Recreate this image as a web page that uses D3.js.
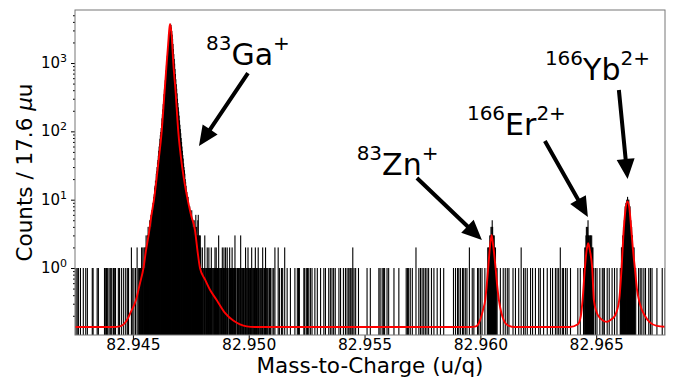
<!DOCTYPE html>
<html><head><meta charset="utf-8">
<script src="https://cdn.jsdelivr.net/npm/d3@7"></script>
<style>body{margin:0;background:#fff} svg{display:block} text{font-family:"DejaVu Sans",sans-serif}</style>
</head><body><svg id="c" width="673" height="377"></svg>
<script>
// ---------- data ----------
const binWidth = 17.6e-6;          // u
const binOrigin = 82.9425;         // u, left edge of bin 0
const gaStartBin = 159;
const gaCounts = [1,
1,0,2,1,1,2,0,1,2,1,
2,1,2,3,2,2,3,
3,4,3,2,4,5,4,
5,6,4,7,6,8,
9,8,11,12,15,
16,19,18,24,26,
30,35,38,44,
52,60,66,78,
88,98,112,130,
155,180,210,250,
300,350,410,480,
560,660,780,920,
1080,1280,1500,1750,
2050,2400,2800,3200,3550,
3750,
3600,3300,2950,2600,2250,
1900,1600,1350,1150,
980,820,690,580,
490,420,360,300,
260,225,195,170,
145,125,108,94,
80,70,60,52,
45,40,34,30,
27,24,20,18,
16,14,13,11,
10,11,9,8,
7,8,6,7,
6,5,7,5,
4,5,4,3,
5,4,3,4,
6,3,4,3,
3,5,6,3,
2,3,2,3,2,
1,1,0,2,1,1,0,1,1,3,
1,0,1,1,1,2,1,0,1,2,
1,1,0,1,1,2,1,1,0,1,
1,0,0,1,2,1,1,2,1,0,
1,1,1,3,1,0,1,1,0,1,
1,1,2,0,1,1,2,1,0,1,
2,1,0,1,2,1,1,0,0,1,
2,1,1,0,1,1,2,1,0,1,
1,0,1,3,1,1,0,0,1,1,
1,0,1,1,0,1,1,3,1,0,
1,1,0,1,1,0,0,1,1,2,
1,0,1,1,0,2,1,1,0,1,
0,1,1,0,2,1,0,1,1,0,
1,1,0,2,1,0,1,1,0,1,
2,1,0,0,1,1,0,1,0,1,
1,2,1,0,0,1,1,0,2,1,
0,1,1,0,1,0,0,1,1,0,1];
const znStartBin = 1010;
const znCounts = [1,2,0,2,1,2,3,2,3,4,3,4,5,4,3,3,2,3,2,1,2,1,1,0,1];
const erStartBin = 1246;
const erCounts = [1,1,0,2,1,2,3,4,3,2,4,5,3,3,2,3,2,3,3,2,3,1,2,2,1,1,0];
const ybStartBin = 1336;
const ybCounts = [1,1,0,2,2,1,3,2,4,3,5,6,8,7,9,8,10,9,11,10,9,10,8,7,8,6,5,4,4,3,3,2,2,1,2,1,1,0,1];
const singleBins = [1,4,7,12,19,25,29,41,43,53,56,71,74,76,78,82,85,87,89,93,96,98,105,108,113,118,123,127,130,139,143,147,154,157,
482,486,500,505,508,519,527,538,544,547,549,560,562,566,569,572,576,580,587,593,601,609,613,621,625,629,633,637,646,650,657,662,666,670,673,675,678,683,687,694,715,723,744,747,752,755,758,764,768,781,793,811,814,817,821,826,842,846,850,854,858,862,866,873,879,887,895,903,927,932,937,940,944,949,952,956,960,973,977,986,989,993,997,1004,
1042,1049,1054,1059,1063,1073,1079,1087,1099,1103,1108,1116,1121,1128,1136,1140,1148,1157,1165,1170,1177,1181,1185,1194,1197,1202,1206,1214,1232,1238,
1275,1279,1286,1292,1296,1297,1304,1309,1316,1322,1328,1381,1385,1389,1394,1398,1406,1410,1414,1426,1439,1446];
const doubleBins = [137,151,489,497,513,680,835,966,1093,1189];

// fitted model curve (mass in u, counts)
const fitMass = [82.942500,82.944140,82.944442,82.944731,82.944917,82.945133,82.945305,82.945456,82.945564,82.945694,82.945802,82.945910,82.946095,82.946242,82.946354,82.946458,82.946527,82.946570,82.946600,82.946635,82.946678,82.946743,82.946838,82.946958,82.947105,82.947226,82.947364,82.947507,82.947679,82.947787,82.947895,82.948111,82.948327,82.948616,82.948974,82.949332,82.949621,82.949911,82.950269,
82.959548,82.959807,82.959980,82.960109,82.960209,82.960282,82.960338,82.960411,82.960485,82.960554,82.960614,82.960657,82.960727,82.960800,82.960908,82.961016,82.961188,82.961490,
82.963864,82.964210,82.964339,82.964412,82.964512,82.964576,82.964654,82.964727,82.964827,82.964900,82.965030,82.965202,82.965448,82.965634,82.965806,82.965992,82.966096,82.966173,82.966260,82.966355,82.966432,82.966519,82.966605,82.966670,82.966756,82.966885,82.967101,82.967317,82.967619,82.967964];
const fitCounts = [0.137,0.137,0.14,0.17,0.23,0.34,0.6,1.0,1.8,3.3,6,10,34,100,330,1000,2000,3100,3700,3300,2400,1000,400,100,34,18,10,6,3.6,1.8,1.0,0.68,0.48,0.34,0.22,0.17,0.15,0.14,0.137,
0.137,0.14,0.17,0.24,0.34,0.6,1.0,2.0,3.05,2.1,1.4,1.0,0.55,0.34,0.22,0.17,0.145,0.137,
0.137,0.15,0.2,0.34,1.0,1.7,2.3,1.8,1.0,0.34,0.22,0.18,0.163,0.175,0.2,0.34,1.0,3.0,7.0,9.4,7.5,3.5,1.6,1.0,0.5,0.3,0.2,0.16,0.142,0.138];

const xTicks = [82.945, 82.950, 82.955, 82.960, 82.965];
const yTicks = [1, 10, 100, 1000];
const yTickExp = ["0","1","2","3"];
const yMinor = [0.2,0.3,0.4,0.5,0.6,0.7,0.8,0.9,2,3,4,5,6,7,8,9,20,30,40,50,60,70,80,90,200,300,400,500,600,700,800,900,2000,3000,4000,5000];

// annotations: label parts, text anchor (mass,count), arrow tail and tip (mass,count)
const annLabels = [["83","Ga","+"],["83","Zn","+"],["166","Er","2+"],["166","Yb","2+"]];
const annText = [[82.948154,935],[82.954658,22.96],[82.959419,88.4],[82.962785,564]];
const annTail = [[82.949967,714],[82.957261,20.8],[82.962785,72.2],[82.965979,403]];
const annTip  = [[82.947852,61.0],[82.960066,2.57],[82.964641,5.58],[82.966355,20.1]];

// ---------- layout ----------
const L=75, R=665, T=10, B=335;
const x = d3.scaleLinear().domain([82.9425, 82.96797]).range([L,R]);
const y = d3.scaleLog().domain([0.1046, 5970]).range([B,T]);
const svg = d3.select('#c');
svg.append('defs').append('clipPath').attr('id','clip')
  .append('rect').attr('x',L).attr('y',T).attr('width',R-L).attr('height',B-T);

const bars = [];
function addRun(start, counts){ counts.forEach((c,i)=>{ if(c>0) bars.push({k:start+i,c}); }); }
addRun(gaStartBin, gaCounts); addRun(znStartBin, znCounts); addRun(erStartBin, erCounts); addRun(ybStartBin, ybCounts);
singleBins.forEach(k=>bars.push({k,c:1}));
doubleBins.forEach(k=>bars.push({k,c:2}));

const plot = svg.append('g').attr('clip-path','url(#clip)');
const bw = Math.max(1.1, x(binOrigin+binWidth)-x(binOrigin));
plot.selectAll('rect.bar').data(bars).join('rect').attr('class','bar')
  .attr('x', d=>x(binOrigin+d.k*binWidth))
  .attr('width', bw)
  .attr('y', d=>y(d.c))
  .attr('height', d=>B-y(d.c))
  .attr('fill','#000');

const fit = fitMass.map((m,i)=>({m, c:fitCounts[i]}));
plot.append('path').datum(fit)
  .attr('d', d3.line().x(d=>x(d.m)).y(d=>y(d.c)).curve(d3.curveMonotoneX))
  .attr('fill','none').attr('stroke','#ff0000').attr('stroke-width',1.9);

// axes
const gx = svg.append('g').attr('transform',`translate(0,${B})`)
  .call(d3.axisBottom(x).tickValues(xTicks).tickFormat(d3.format('.3f')).tickSize(4).tickSizeOuter(0).tickPadding(0));
gx.select('.domain').remove();
gx.selectAll('line').attr('stroke','#000');
gx.selectAll('text').attr('font-size',15.5).attr('fill','#000').attr('font-family','DejaVu Sans');

const gy = svg.append('g').attr('transform',`translate(${L},0)`)
  .call(d3.axisLeft(y).tickValues(yTicks).tickFormat(()=> '').tickSize(4).tickSizeOuter(0));
gy.select('.domain').remove();
gy.selectAll('line').attr('stroke','#000');
const gym = svg.append('g').attr('transform',`translate(${L},0)`)
  .call(d3.axisLeft(y).tickValues(yMinor).tickFormat(()=> '').tickSize(2).tickSizeOuter(0));
gym.select('.domain').remove();
gym.selectAll('line').attr('stroke','#000');

yTicks.forEach((v,i)=>{
  const t = svg.append('text').attr('x', L-8).attr('y', y(v)+5).attr('text-anchor','end')
    .attr('font-size',15).attr('fill','#000');
  t.append('tspan').text('10');
  t.append('tspan').attr('font-size',11).attr('dy',-6).text(yTickExp[i]);
});

svg.append('rect').attr('x',L).attr('y',T).attr('width',R-L).attr('height',B-T)
  .attr('fill','none').attr('stroke','#777').attr('stroke-width',1);

svg.append('text').attr('x',(L+R)/2).attr('y',372.5).attr('text-anchor','middle')
  .attr('font-size',21.5).attr('fill','#000').text('Mass-to-Charge (u/q)');
const yl = svg.append('text').attr('transform',`translate(32,${(T+B)/2}) rotate(-90)`).attr('text-anchor','middle')
  .attr('font-size',21.5).attr('fill','#000');
yl.append('tspan').text('Counts / 17.6 ');
yl.append('tspan').attr('font-style','italic').text('μ');
yl.append('tspan').text('u');

// annotations
function arrow(x0,y0,x1,y1){
  const dx=x1-x0, dy=y1-y0, len=Math.hypot(dx,dy), ux=dx/len, uy=dy/len, px=-uy, py=ux;
  const hl=20, hw=9, sw=2;
  const bx=x1-ux*hl, by=y1-uy*hl;
  const p=[[x0+px*sw,y0+py*sw],[bx+px*sw,by+py*sw],[bx+px*hw,by+py*hw],[x1,y1],[bx-px*hw,by-py*hw],[bx-px*sw,by-py*sw],[x0-px*sw,y0-py*sw]];
  svg.append('path').attr('d','M'+p.map(q=>q.join(',')).join('L')+'Z').attr('fill','#000');
}
annLabels.forEach((lab,i)=>{
  const t = svg.append('text').attr('x', x(annText[i][0])).attr('y', y(annText[i][1])).attr('fill','#000');
  t.append('tspan').attr('font-size',20).attr('dy',-15).text(lab[0]);
  t.append('tspan').attr('font-size',30).attr('dy',15).text(lab[1]);
  t.append('tspan').attr('font-size',20).attr('dy',-15).text(lab[2]);
  arrow(x(annTail[i][0]), y(annTail[i][1]), x(annTip[i][0]), y(annTip[i][1]));
});
</script></body></html>
